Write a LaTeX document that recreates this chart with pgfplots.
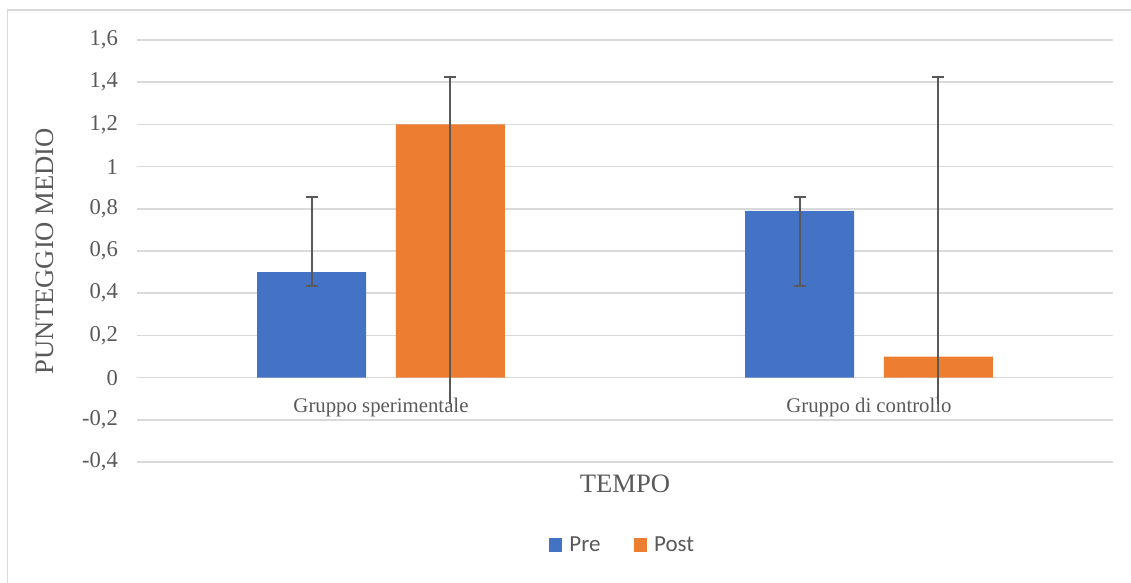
\documentclass[border=0pt]{standalone}
\usepackage{pgfplots}
\pgfplotsset{compat=1.18}
\usepackage{fontspec}
\setmainfont{Liberation Serif}
\newfontfamily\calibri{Carlito}
\definecolor{cblue}{HTML}{4472C4}
\definecolor{corange}{HTML}{ED7D31}
\definecolor{ctext}{HTML}{595959}
\definecolor{cgrid}{HTML}{D9D9D9}
\definecolor{cerr}{HTML}{595959}
\begin{document}
\begin{tikzpicture}
\useasboundingbox (0,0) rectangle (565.5pt,-291.5pt);
\begin{scope}
\clip (0,0) rectangle (565.5pt,-291.5pt);
\draw[color=cgrid, line width=0.75pt] (3.75pt,-5pt) rectangle (600pt,-330pt);
\end{scope}
\begin{axis}[
  at={(68.5pt,-231pt)}, anchor=south west,
  width=488pt, height=211pt, scale only axis,
  xmin=-0.5, xmax=1.5, ymin=-0.4, ymax=1.6,
  ytick={-0.4,-0.2,0,0.2,0.4,0.6,0.8,1,1.2,1.4,1.6},
  xtick={0,1}, xticklabels={Gruppo sperimentale, Gruppo di controllo},
  ymajorgrids, grid style={cgrid, line width=0.75pt},
  axis line style={draw=none}, major tick length=0pt,
  /pgf/number format/.cd, use comma, assume math mode=true, fixed, precision=1,
  /pgfplots/.cd,
  yticklabel style={font=\fontsize{11.3}{13}\selectfont, text=ctext, xshift=-6pt},
  xticklabel style={font=\fontsize{10.4}{12}\selectfont, text=ctext, yshift=35.5pt},
  ylabel={PUNTEGGIO MEDIO}, xlabel={TEMPO},
  ylabel style={at={(axis description cs:-0.0943,0.5)}, anchor=center, font=\fontsize{13.3}{15}\selectfont, text=ctext},
  xlabel style={at={(axis description cs:0.5,-0.052)}, anchor=center, font=\fontsize{13.3}{15}\selectfont, text=ctext},
  legend style={at={(axis description cs:0.5,-0.197)}, anchor=center, draw=none, fill=none,
    legend columns=2, font=\calibri\fontsize{11.5}{13}\selectfont, text=ctext,
    /tikz/every even column/.append style={column sep=13pt},
    /tikz/nodes={inner xsep=3.5pt}},
  legend image code/.code={\fill[#1] (0pt,-3.4pt) rectangle (6.8pt,3.4pt);},
  error bars/error bar style={cerr, line width=1pt},
  error bars/error mark options={cerr, line width=1pt, mark size=3pt, rotate=90},
]
\addplot[ybar, bar width=54.5pt, bar shift=0pt, fill=cblue, draw=none,
  error bars/.cd, y dir=both, y explicit]
  coordinates {(-0.142,0.5) += (0,0.355) -= (0,0.065) (0.858,0.79) += (0,0.065) -= (0,0.355)};
\addlegendentry{Pre}
\addplot[ybar, bar width=54.5pt, bar shift=0pt, fill=corange, draw=none,
  error bars/.cd, y dir=plus, y explicit]
  coordinates {(0.142,1.2) += (0,0.225) -= (0,1.325) (1.142,0.1) += (0,1.325) -= (0,0.225)};
\addlegendentry{Post}
\addplot[ybar, bar width=54.5pt, bar shift=0pt, fill=none, draw=none, forget plot,
  error bars/.cd, y dir=minus, y explicit, error mark=none]
  coordinates {(0.142,1.2) += (0,0.225) -= (0,1.325) (1.142,0.1) += (0,1.325) -= (0,0.225)};
\end{axis}
\end{tikzpicture}
\end{document}
